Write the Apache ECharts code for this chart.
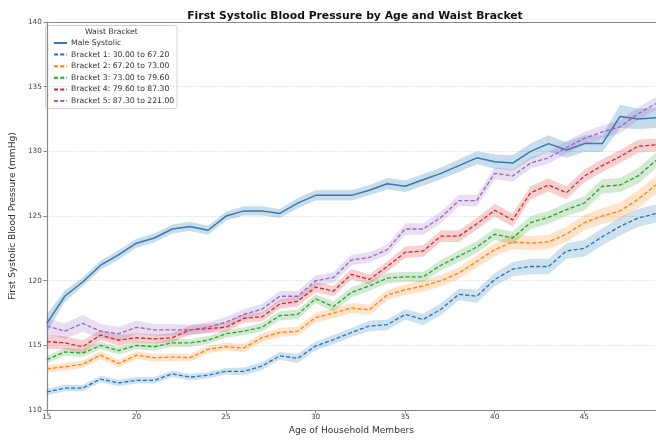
<!DOCTYPE html>
<html>
<head>
<meta charset="utf-8">
<script src="https://cdn.jsdelivr.net/npm/echarts@6/dist/echarts.min.js"></script>
<style>html,body{margin:0;padding:0;background:#fff;}#c{width:656px;height:440px;}</style>
</head>
<body>
<div id="c"></div>
<script>
const ages = [15,16,17,18,19,20,21,22,23,24,25,26,27,28,29,30,31,32,33,34,35,36,37,38,39,40,41,42,43,44,45,46,47,48,49];

const maleSystolic = [116.7,118.8,119.9,121.2,122.0,122.9,123.3,124.0,124.2,123.9,125.0,125.4,125.4,125.2,126.0,126.6,126.6,126.6,127.0,127.5,127.3,127.8,128.3,128.9,129.5,129.2,129.1,130.0,130.6,130.1,130.6,130.6,132.7,132.5,132.6];
const maleCI = [0.7,0.45,0.35,0.35,0.35,0.35,0.35,0.35,0.35,0.35,0.35,0.35,0.35,0.35,0.4,0.4,0.4,0.4,0.4,0.45,0.45,0.45,0.45,0.5,0.5,0.55,0.6,0.6,0.65,0.6,0.65,0.65,0.9,0.8,0.8];

const bracket1 = [111.4,111.7,111.7,112.4,112.1,112.3,112.3,112.8,112.55,112.7,113.0,113.0,113.4,114.2,114.0,114.95,115.45,116.0,116.5,116.6,117.4,117.0,117.8,118.95,118.8,120.1,120.9,121.1,121.1,122.3,122.5,123.4,124.2,124.85,125.2];
const bracket1CI = [0.25,0.25,0.25,0.25,0.25,0.25,0.25,0.25,0.25,0.25,0.25,0.3,0.3,0.3,0.35,0.35,0.35,0.35,0.4,0.4,0.4,0.45,0.45,0.45,0.5,0.5,0.55,0.6,0.6,0.6,0.65,0.65,0.7,0.7,0.7];

const bracket2 = [113.2,113.35,113.55,114.25,113.6,114.25,114.05,114.1,114.05,114.7,114.9,114.8,115.6,116.0,116.1,117.15,117.5,117.9,117.75,118.9,119.3,119.6,120.0,120.6,121.5,122.4,123.0,122.9,123.0,123.6,124.5,125.0,125.4,126.3,127.4];
const bracket2CI = [0.3,0.3,0.3,0.3,0.3,0.3,0.3,0.3,0.3,0.3,0.3,0.3,0.35,0.35,0.35,0.35,0.4,0.4,0.4,0.4,0.4,0.45,0.45,0.45,0.5,0.5,0.55,0.55,0.55,0.6,0.6,0.6,0.65,0.7,0.7];

const bracket3 = [113.9,114.5,114.4,115.0,114.6,115.0,114.9,115.2,115.2,115.4,115.9,116.1,116.4,117.3,117.4,118.6,118.0,119.1,119.6,120.2,120.3,120.3,121.2,121.9,122.6,123.6,123.3,124.5,124.9,125.5,126.0,127.3,127.4,128.1,129.3];
const bracket3CI = [0.3,0.3,0.3,0.3,0.3,0.3,0.3,0.3,0.3,0.3,0.3,0.3,0.35,0.35,0.35,0.35,0.4,0.4,0.4,0.4,0.4,0.4,0.4,0.45,0.45,0.45,0.5,0.5,0.5,0.5,0.55,0.55,0.55,0.6,0.6];

const bracket4 = [115.3,115.2,114.9,115.8,115.4,115.6,115.5,115.6,116.2,116.3,116.4,117.1,117.2,118.2,118.4,119.5,119.2,120.5,120.1,121.1,122.2,122.3,123.45,123.45,124.4,125.45,124.7,126.8,127.4,126.8,128.1,128.9,129.6,130.4,130.5];
const bracket4CI = [0.55,0.5,0.5,0.4,0.4,0.35,0.35,0.35,0.35,0.35,0.35,0.35,0.35,0.35,0.4,0.4,0.4,0.4,0.4,0.4,0.45,0.45,0.45,0.45,0.45,0.5,0.5,0.5,0.5,0.5,0.5,0.5,0.5,0.5,0.5];

const bracket5 = [116.5,116.1,116.7,116.1,115.9,116.4,116.2,116.2,116.2,116.4,116.8,117.4,117.8,118.8,118.8,120.0,120.25,121.6,121.8,122.4,124.0,124.0,124.9,126.2,126.2,128.3,128.1,129.1,129.5,130.3,131.0,131.5,131.9,132.9,133.7];
const bracket5CI = [0.6,0.6,0.65,0.55,0.55,0.5,0.45,0.45,0.4,0.4,0.4,0.4,0.4,0.4,0.4,0.4,0.4,0.4,0.4,0.4,0.45,0.45,0.45,0.45,0.45,0.45,0.45,0.45,0.45,0.5,0.5,0.5,0.5,0.5,0.5];

const seriesNames = ['Male Systolic','Bracket 1: 30.00 to 67.20','Bracket 2: 67.20 to 73.00','Bracket 3: 73.00 to 79.60','Bracket 4: 79.60 to 87.30','Bracket 5: 87.30 to 221.00'];
const seriesValues = [maleSystolic, bracket1, bracket2, bracket3, bracket4, bracket5];
const seriesCI = [maleCI, bracket1CI, bracket2CI, bracket3CI, bracket4CI, bracket5CI];
const lineColors = ['#3a78ae','#1f77b4','#ff7f0e','#2ca02c','#d62728','#9467bd'];
const bandColors = ['rgba(31,119,180,0.25)','rgba(31,119,180,0.22)','rgba(255,127,14,0.22)','rgba(44,160,44,0.22)','rgba(214,39,40,0.22)','rgba(148,103,189,0.22)'];

const FONT = 'DejaVu Sans';
const series = [];
seriesValues.forEach((vals, i) => {
  const ci = seriesCI[i];
  const stack = 'band' + i;
  series.push({
    type: 'line', name: 'lo' + i, stack: stack, silent: true, symbol: 'none',
    data: vals.map((v, k) => v - ci[k]),
    lineStyle: { opacity: 0 }, z: 1
  });
  series.push({
    type: 'line', name: 'hi' + i, stack: stack, silent: true, symbol: 'none',
    data: vals.map((v, k) => 2 * ci[k]),
    lineStyle: { opacity: 0 }, areaStyle: { color: bandColors[i], opacity: 1 }, z: 1
  });
});
seriesValues.forEach((vals, i) => {
  series.push({
    type: 'line', name: seriesNames[i], symbol: 'none',
    data: vals,
    itemStyle: { color: lineColors[i] },
    lineStyle: { color: lineColors[i], width: i === 0 ? 1.5 : 1.3, type: i === 0 ? 'solid' : [4, 2.2] },
    z: 3
  });
});

const chart = echarts.init(document.getElementById('c'), null, { renderer: 'canvas' });
chart.setOption({
  animation: false,
  backgroundColor: '#fff',
  title: {
    text: 'First Systolic Blood Pressure by Age and Waist Bracket',
    left: 350, top: 6, textAlign: 'center',
    textStyle: { fontFamily: FONT, fontWeight: 'bold', fontSize: 10.8, color: '#111' }
  },
  grid: { left: 42, right: 0, top: 22, bottom: 29 },
  xAxis: [{
    type: 'category', data: ages, boundaryGap: false,
    name: 'Age of Household Members', nameLocation: 'middle', nameGap: 15,
    nameTextStyle: { fontFamily: FONT, fontSize: 9.1, color: '#333' },
    axisLine: { lineStyle: { color: '#888', width: 1.2 } },
    axisTick: { show: true, interval: 4, length: 3.5, lineStyle: { color: '#888' } },
    axisLabel: { interval: 4, fontFamily: FONT, fontSize: 7.3, color: '#444', margin: 4 },
    splitLine: { show: false }
  }, {
    type: 'category', data: ages, boundaryGap: false, position: 'top',
    axisLine: { show: true, onZero: false, lineStyle: { color: '#888', width: 1.2 } },
    axisTick: { show: false }, axisLabel: { show: false }, splitLine: { show: false }
  }],
  yAxis: {
    type: 'value', min: 110, max: 140, interval: 5,
    name: 'First Systolic Blood Pressure (mmHg)', nameLocation: 'middle', nameGap: 20,
    nameTextStyle: { fontFamily: FONT, fontSize: 9.1, color: '#333' },
    axisLine: { show: true, lineStyle: { color: '#888', width: 1.2 } },
    axisTick: { show: true, length: 3.5, lineStyle: { color: '#888' } },
    axisLabel: { fontFamily: FONT, fontSize: 7.3, color: '#444', margin: 5 },
    splitLine: { show: true, lineStyle: { color: '#d5d5d5', type: [1.5, 1.5], width: 0.8 } }
  },
  legend: {
    data: seriesNames, orient: 'vertical', left: 53, top: 38.5, padding: 0,
    itemWidth: 13, itemHeight: 9, itemGap: 2.6,
    itemStyle: { opacity: 0, borderWidth: 0 },
    textStyle: { fontFamily: FONT, fontSize: 7.7, color: '#333', lineHeight: 9, padding: [0, 0, 0, -1] }
  },
  graphic: [
    { type: 'rect', z: -1, zlevel: 0, shape: { x: 45.5, y: 25.5, width: 131.5, height: 83, r: 2 },
      style: { fill: 'rgba(255,255,255,0.85)', stroke: '#d0d0d0', lineWidth: 1 } },
    { type: 'text', z: 10, left: 85, top: 28, style: { text: 'Waist Bracket', fontFamily: FONT, fontSize: 7.7, fill: '#333' } }
  ],
  series: series
});
</script>
</body>
</html>
